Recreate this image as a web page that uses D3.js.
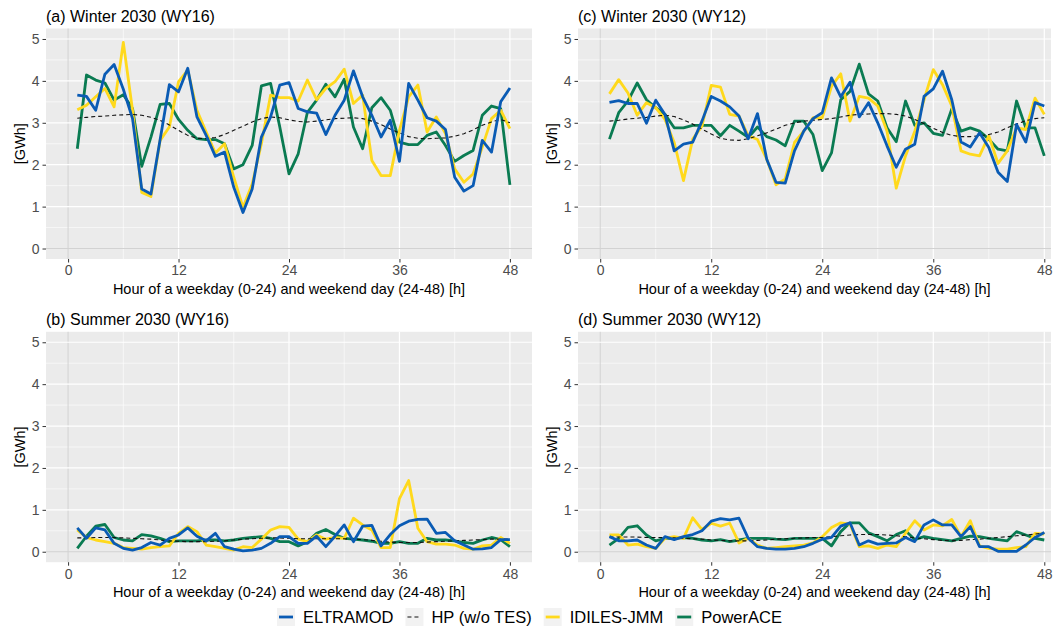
<!DOCTYPE html>
<html>
<head>
<meta charset="utf-8">
<script src="https://cdn.jsdelivr.net/npm/d3@7"></script>
<style>
  body { margin: 0; background: #fff; }
  text { font-family: "Liberation Sans", Arial, sans-serif; }
</style>
</head>
<body>
<div id="Vis"></div>
<script>
// hours of the typical weekday (1-24) and weekend day (25-48)
var hours = [1,2,3,4,5,6,7,8,9,10,11,12,13,14,15,16,17,18,19,20,21,22,23,24,
             25,26,27,28,29,30,31,32,33,34,35,36,37,38,39,40,41,42,43,44,45,46,47,48];
var xTicks = [0, 12, 24, 36, 48];
var yTicks = [0, 1, 2, 3, 4, 5];
var models = ["ELTRAMOD", "HP (w/o TES)", "IDILES-JMM", "PowerACE"];

// (a) Winter 2030 (WY16)
var a_ELTRAMOD = [3.66,3.63,3.30,4.16,4.39,3.80,3.10,1.42,1.30,2.60,3.91,3.74,4.30,3.14,2.70,2.20,2.30,1.46,0.86,1.42,2.66,3.14,3.90,3.96,3.34,3.26,3.23,2.72,3.18,3.54,4.24,3.62,3.18,2.66,3.06,2.08,3.94,3.54,3.12,3.04,2.84,1.70,1.37,1.50,2.58,2.30,3.50,3.83];
var a_HP       = [3.11,3.13,3.15,3.16,3.18,3.19,3.20,3.18,3.13,3.06,2.95,2.82,2.70,2.63,2.62,2.65,2.72,2.82,2.92,3.02,3.10,3.14,3.12,3.07,3.03,3.02,3.04,3.07,3.10,3.11,3.12,3.10,3.04,2.96,2.85,2.76,2.67,2.63,2.62,2.63,2.64,2.68,2.74,2.83,2.94,3.02,3.08,3.00];
var a_IDILES   = [3.31,3.42,3.62,3.82,3.38,4.92,3.30,1.34,1.24,2.58,2.90,3.98,4.26,3.30,2.78,2.28,2.50,1.70,0.98,1.54,2.50,3.66,3.60,3.60,3.52,4.02,3.55,3.82,3.98,4.28,3.46,3.66,2.10,1.74,1.74,2.82,3.62,3.90,2.78,3.14,2.74,1.90,1.58,1.78,2.42,3.10,3.30,2.86];
var a_PowerACE = [2.38,4.14,4.02,3.95,3.54,3.67,3.34,1.96,2.66,3.44,3.46,3.08,2.82,2.62,2.60,2.60,2.50,1.90,2.00,2.46,3.88,3.94,2.90,1.78,2.26,3.25,3.54,3.92,3.62,4.04,2.90,2.38,3.36,3.60,3.30,2.54,2.48,2.48,2.70,2.78,2.46,2.08,2.22,2.34,3.18,3.40,3.34,1.52];

// (b) Summer 2030 (WY16)
var b_ELTRAMOD = [0.57,0.32,0.57,0.52,0.20,0.08,0.04,0.10,0.22,0.16,0.32,0.40,0.57,0.37,0.26,0.44,0.12,0.06,0.02,0.04,0.08,0.20,0.36,0.36,0.20,0.20,0.37,0.12,0.37,0.64,0.24,0.61,0.63,0.14,0.41,0.62,0.73,0.77,0.78,0.44,0.46,0.26,0.16,0.06,0.07,0.10,0.29,0.29];
var b_HP       = [0.33,0.33,0.34,0.34,0.34,0.33,0.32,0.31,0.30,0.28,0.26,0.25,0.24,0.24,0.24,0.25,0.26,0.28,0.30,0.31,0.32,0.33,0.33,0.32,0.31,0.31,0.31,0.31,0.31,0.31,0.30,0.29,0.27,0.25,0.23,0.22,0.22,0.22,0.23,0.24,0.25,0.26,0.27,0.28,0.29,0.30,0.30,0.30];
var b_IDILES   = [0.52,0.34,0.28,0.24,0.20,0.10,0.08,0.06,0.10,0.12,0.14,0.44,0.60,0.48,0.16,0.12,0.08,0.04,0.12,0.10,0.30,0.52,0.60,0.58,0.30,0.24,0.40,0.30,0.34,0.32,0.80,0.64,0.52,0.10,0.10,1.27,1.70,0.56,0.24,0.18,0.18,0.16,0.08,0.06,0.14,0.16,0.34,0.20];
var b_PowerACE = [0.08,0.37,0.61,0.65,0.34,0.28,0.26,0.41,0.38,0.32,0.24,0.26,0.26,0.26,0.28,0.28,0.26,0.28,0.32,0.34,0.36,0.32,0.24,0.24,0.14,0.24,0.44,0.53,0.41,0.32,0.30,0.28,0.25,0.20,0.20,0.24,0.20,0.20,0.32,0.28,0.28,0.26,0.22,0.20,0.28,0.34,0.29,0.12];

// (c) Winter 2030 (WY12)
var c_ELTRAMOD = [3.49,3.53,3.46,3.46,2.99,3.54,3.20,2.33,2.49,2.54,3.04,3.63,3.52,3.38,3.16,2.62,3.22,2.13,1.58,1.56,2.33,2.80,3.10,3.24,4.07,3.62,3.97,3.14,3.48,3.00,2.45,1.94,2.37,2.49,3.63,3.81,4.23,3.55,2.54,2.42,2.76,2.41,1.82,1.60,2.96,2.54,3.48,3.40];
var c_HP       = [3.04,3.06,3.09,3.11,3.13,3.16,3.18,3.15,3.07,2.97,2.85,2.73,2.63,2.59,2.58,2.62,2.69,2.76,2.85,2.94,3.00,3.04,3.06,3.08,3.10,3.14,3.18,3.20,3.21,3.22,3.22,3.20,3.16,3.08,2.98,2.87,2.77,2.70,2.67,2.67,2.69,2.72,2.78,2.88,2.97,3.05,3.10,3.12];
var c_IDILES   = [3.69,4.03,3.71,3.18,3.48,3.36,3.08,2.53,1.62,2.61,2.92,3.89,3.85,3.20,3.16,2.69,2.60,2.13,1.52,1.66,2.53,2.80,3.12,3.12,3.87,4.17,3.04,3.63,3.59,3.40,2.80,1.44,2.21,2.80,3.55,4.27,3.91,3.40,2.33,2.25,2.21,2.69,2.03,2.33,2.88,2.84,3.59,3.20];
var c_PowerACE = [2.61,3.24,3.52,3.95,3.55,3.36,3.20,2.88,2.88,2.94,2.94,2.94,2.69,2.94,2.80,2.65,2.90,2.67,2.59,2.45,3.04,3.04,2.72,1.86,2.28,3.55,3.75,4.40,3.69,3.52,2.88,2.55,3.52,2.94,3.00,2.75,2.70,3.33,2.80,2.88,2.80,2.61,2.37,2.33,3.52,2.88,2.88,2.21];

// (d) Summer 2030 (WY12)
var d_ELTRAMOD = [0.36,0.26,0.26,0.28,0.16,0.08,0.36,0.29,0.36,0.41,0.50,0.73,0.79,0.76,0.80,0.32,0.12,0.08,0.06,0.06,0.08,0.12,0.20,0.30,0.34,0.61,0.69,0.16,0.26,0.18,0.20,0.21,0.34,0.24,0.64,0.76,0.64,0.64,0.36,0.60,0.12,0.12,0.01,0.01,0.01,0.16,0.34,0.46];
var d_HP       = [0.35,0.35,0.35,0.35,0.34,0.34,0.34,0.33,0.32,0.31,0.30,0.28,0.27,0.26,0.26,0.26,0.27,0.28,0.30,0.31,0.32,0.33,0.34,0.34,0.36,0.38,0.40,0.41,0.41,0.41,0.40,0.38,0.36,0.33,0.31,0.29,0.27,0.26,0.27,0.29,0.30,0.32,0.34,0.36,0.38,0.40,0.42,0.45];
var d_IDILES   = [0.40,0.40,0.16,0.18,0.12,0.08,0.32,0.36,0.32,0.81,0.53,0.68,0.61,0.68,0.21,0.32,0.16,0.08,0.10,0.12,0.14,0.16,0.21,0.36,0.58,0.69,0.66,0.12,0.14,0.08,0.16,0.12,0.44,0.74,0.52,0.64,0.62,0.77,0.36,0.74,0.14,0.08,0.06,0.06,0.10,0.12,0.44,0.42];
var d_PowerACE = [0.16,0.32,0.58,0.62,0.40,0.26,0.32,0.32,0.34,0.32,0.28,0.26,0.29,0.24,0.28,0.32,0.32,0.32,0.30,0.29,0.32,0.32,0.32,0.32,0.14,0.48,0.69,0.69,0.45,0.36,0.26,0.41,0.50,0.29,0.36,0.32,0.29,0.26,0.32,0.37,0.36,0.32,0.29,0.26,0.48,0.40,0.32,0.28];

var colors = { "ELTRAMOD": "#0a5bb4", "HP (w/o TES)": "#111", "IDILES-JMM": "#ffd91c", "PowerACE": "#0a7b52" };

var W = 1061, H = 633;
var svg = d3.select("#Vis").append("svg")
    .attr("width", W)
    .attr("height", H);

// panel layout: left/right edge of the grey area, top/bottom
var panels = [
  { title: "(a) Winter 2030 (WY16)", left: 46,  right: 532,  top: 28.5, bottom: 259,
    s: [a_ELTRAMOD, a_HP, a_IDILES, a_PowerACE] },
  { title: "(c) Winter 2030 (WY12)", left: 578, right: 1051, top: 28.5, bottom: 259,
    s: [c_ELTRAMOD, c_HP, c_IDILES, c_PowerACE] },
  { title: "(b) Summer 2030 (WY16)", left: 46,  right: 532,  top: 331.8, bottom: 562.2,
    s: [b_ELTRAMOD, b_HP, b_IDILES, b_PowerACE] },
  { title: "(d) Summer 2030 (WY12)", left: 578, right: 1051, top: 331.8, bottom: 562.2,
    s: [d_ELTRAMOD, d_HP, d_IDILES, d_PowerACE] }
];

panels.forEach(function(p) {
  var g = svg.append("g");

  // x: 0..48 with 5% expansion on each side (right column is cut a bit)
  var x = d3.scaleLinear()
    .domain([-2.4, 50.4])
    .range([p.left, p.left + (p.left < 100 ? 486 : 488.5)]);
  var y = d3.scaleLinear()
    .domain([-0.25, 5.25])
    .range([p.bottom, p.top]);

  g.append("rect")
    .attr("x", p.left).attr("y", p.top)
    .attr("width", p.right - p.left).attr("height", p.bottom - p.top)
    .attr("fill", "#ebebeb");

  // minor grid
  [6, 18, 30, 42].forEach(function(t) {
    g.append("line").attr("x1", x(t)).attr("x2", x(t)).attr("y1", p.top).attr("y2", p.bottom)
      .attr("stroke", "#fff").attr("stroke-width", 0.6);
  });
  [0.5, 1.5, 2.5, 3.5, 4.5].forEach(function(t) {
    g.append("line").attr("x1", p.left).attr("x2", p.right).attr("y1", y(t)).attr("y2", y(t))
      .attr("stroke", "#fff").attr("stroke-width", 0.6);
  });
  // major grid
  xTicks.forEach(function(t) {
    g.append("line").attr("x1", x(t)).attr("x2", x(t)).attr("y1", p.top).attr("y2", p.bottom)
      .attr("stroke", t === 0 ? "#d2d2d2" : "#fff").attr("stroke-width", t === 0 ? 1 : 1.2);
  });
  yTicks.forEach(function(t) {
    g.append("line").attr("x1", p.left).attr("x2", p.right).attr("y1", y(t)).attr("y2", y(t))
      .attr("stroke", t === 0 ? "#d2d2d2" : "#fff").attr("stroke-width", t === 0 ? 1 : 1.2);
  });

  // axes
  var xAxis = g.append("g")
    .attr("transform", "translate(0," + p.bottom + ")")
    .call(d3.axisBottom(x).tickValues(xTicks).tickFormat(d3.format("d")).tickSize(3.5).tickPadding(3));
  var yAxis = g.append("g")
    .attr("transform", "translate(" + p.left + ",0)")
    .call(d3.axisLeft(y).tickValues(yTicks).tickFormat(d3.format("d")).tickSize(3.5).tickPadding(3));
  [xAxis, yAxis].forEach(function(ax) {
    ax.select(".domain").remove();
    ax.selectAll(".tick line").attr("stroke", "#333");
    ax.selectAll(".tick text")
      .attr("fill", "#4d4d4d")
      .attr("font-size", "14px")
      .style("font-family", "'Liberation Sans', Arial, sans-serif");
  });

  var line = d3.line()
    .x(function(d, i) { return x(hours[i]); })
    .y(function(d) { return y(d); });

  // draw order: PowerACE, IDILES-JMM, HP, ELTRAMOD on top
  [3, 2, 1, 0].forEach(function(k) {
    var isHP = k === 1;
    g.append("path")
      .datum(p.s[k])
      .attr("fill", "none")
      .attr("stroke", colors[models[k]])
      .attr("stroke-width", isHP ? 1.1 : 2.8)
      .attr("stroke-dasharray", isHP ? "4,3" : null)
      .attr("stroke-linejoin", "round")
      .attr("d", line);
  });

  // title
  g.append("text")
    .attr("x", p.left)
    .attr("y", p.top - 6.5)
    .attr("font-size", "16px")
    .attr("fill", "#000")
    .text(p.title);

  // x-axis label
  g.append("text")
    .attr("x", (p.left + p.right) / 2)
    .attr("y", p.bottom + 35)
    .attr("text-anchor", "middle")
    .attr("font-size", "14.5px")
    .attr("fill", "#000")
    .text("Hour of a weekday (0-24) and weekend day (24-48) [h]");

  // y-axis label
  g.append("text")
    .attr("transform", "translate(" + (p.left - 21) + "," + ((p.top + p.bottom) / 2) + ") rotate(-90)")
    .attr("text-anchor", "middle")
    .attr("font-size", "14.5px")
    .attr("fill", "#000")
    .text("[GWh]");
});

// legend
var legend = svg.append("g").attr("transform", "translate(0,617)");
var lx = 277;
models.forEach(function(m, k) {
  var item = legend.append("g").attr("transform", "translate(" + lx + ",0)");
  item.append("rect")
    .attr("x", 0).attr("y", -9).attr("width", 18).attr("height", 18)
    .attr("fill", "#f2f2f2");
  item.append("line")
    .attr("x1", 2).attr("x2", 16).attr("y1", 0).attr("y2", 0)
    .attr("stroke", colors[m])
    .attr("stroke-width", k === 1 ? 1.1 : 2.8)
    .attr("stroke-dasharray", k === 1 ? "4,3" : null);
  var t = item.append("text")
    .attr("x", 26)
    .attr("y", 5.5)
    .attr("font-size", "16.5px")
    .attr("fill", "#000")
    .text(m);
  lx += 26 + t.node().getComputedTextLength() + 12;
});
</script>
</body>
</html>
